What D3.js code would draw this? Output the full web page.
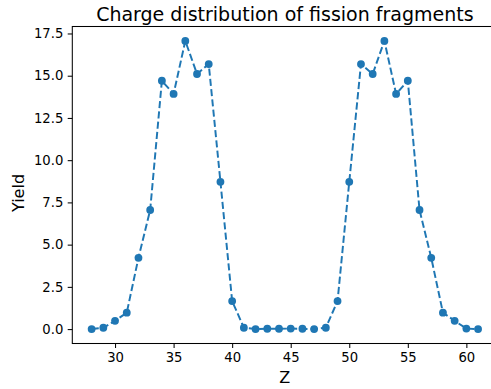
<!DOCTYPE html>
<html>
<head>
<meta charset="utf-8">
<script src="https://cdn.jsdelivr.net/npm/d3@7"></script>
<style>
  body { margin: 0; background: #fff; }
  svg { display: block; font-family: "DejaVu Sans", sans-serif; }
</style>
</head>
<body>
<div id="chart"></div>
<script>
// charge number of the fragments
var zValues = [28, 29, 30, 31, 32, 33, 34, 35, 36, 37, 38, 39, 40, 41, 42, 43, 44,
               45, 46, 47, 48, 49, 50, 51, 52, 53, 54, 55, 56, 57, 58, 59, 60, 61];
// yield (%)
var yieldValues = [0.0, 0.08, 0.49, 0.97, 4.22, 7.05, 14.7, 13.92, 17.06, 15.1, 15.69, 8.72, 1.66, 0.08, 0.0, 0.02, 0.02,
                   0.03, 0.02, 0.0, 0.08, 1.66, 8.72, 15.69, 15.1, 17.06, 13.92, 14.7, 7.05, 4.22, 0.97, 0.49, 0.03, 0.0];
var xTicks = [30, 35, 40, 45, 50, 55, 60];
var yTicks = [0, 2.5, 5, 7.5, 10, 12.5, 15, 17.5];

(function (d3) {
    'use strict';

    var width = 491, height = 389;
    var left = 72.3, right = 497.4, top = 26.5, bottom = 343.5;
    var blue = '#1f77b4';

    var svg = d3.select('#chart').append('svg')
        .attr('width', width)
        .attr('height', height);

    // matplotlib style 5% margins
    var xMin = d3.min(zValues), xMax = d3.max(zValues);
    var yMin = d3.min(yieldValues), yMax = d3.max(yieldValues);
    var xPad = (xMax - xMin) * 0.05, yPad = (yMax - yMin) * 0.05;

    var x = d3.scaleLinear().domain([xMin - xPad, xMax + xPad]).range([left, right]);
    var y = d3.scaleLinear().domain([yMin - yPad, yMax + yPad]).range([bottom, top]);

    var pts = zValues.map(function (z, i) { return [z, yieldValues[i]]; });

    var line = d3.line()
        .x(function (d) { return x(d[0]); })
        .y(function (d) { return y(d[1]); });

    svg.append('path')
        .datum(pts)
        .attr('d', line)
        .attr('fill', 'none')
        .attr('stroke', blue)
        .attr('stroke-width', 1.96)
        .attr('stroke-dasharray', '7.2,3.1');

    svg.selectAll('circle.pt')
        .data(pts)
        .enter().append('circle')
        .attr('class', 'pt')
        .attr('cx', function (d) { return x(d[0]); })
        .attr('cy', function (d) { return y(d[1]); })
        .attr('r', 3.9)
        .attr('fill', blue);

    var xAxis = d3.axisBottom(x).tickValues(xTicks).tickSize(4.6).tickPadding(4.4)
        .tickFormat(d3.format('d'));
    var yAxis = d3.axisLeft(y).tickValues(yTicks).tickSize(4.6).tickPadding(4.4)
        .tickFormat(d3.format('.1f'));

    var gx = svg.append('g').attr('transform', 'translate(0,' + bottom + ')').call(xAxis);
    var gy = svg.append('g').attr('transform', 'translate(' + left + ',0)').call(yAxis);

    [gx, gy].forEach(function (g) {
        g.select('.domain').remove();
        g.selectAll('.tick line').attr('stroke', '#000').attr('stroke-width', 1.04);
        g.selectAll('.tick text')
            .attr('fill', '#000')
            .style('font-family', '"DejaVu Sans", sans-serif')
            .style('font-size', '13.2px');
    });

    // frame (right edge falls outside the picture)
    svg.append('rect')
        .attr('x', left)
        .attr('y', top)
        .attr('width', right - left)
        .attr('height', bottom - top)
        .attr('fill', 'none')
        .attr('stroke', '#000')
        .attr('stroke-width', 1.04);

    svg.append('text')
        .attr('x', (left + right) / 2)
        .attr('y', 21)
        .attr('text-anchor', 'middle')
        .style('font-size', '19px')
        .text('Charge distribution of fission fragments');

    svg.append('text')
        .attr('x', (left + right) / 2)
        .attr('y', 383)
        .attr('text-anchor', 'middle')
        .style('font-size', '16px')
        .text('Z');

    svg.append('text')
        .attr('transform', 'translate(24,' + ((top + bottom) / 2 + 8) + ') rotate(-90)')
        .attr('text-anchor', 'middle')
        .style('font-size', '16px')
        .text('Yield');

}(window.d3));
</script>
</body>
</html>
